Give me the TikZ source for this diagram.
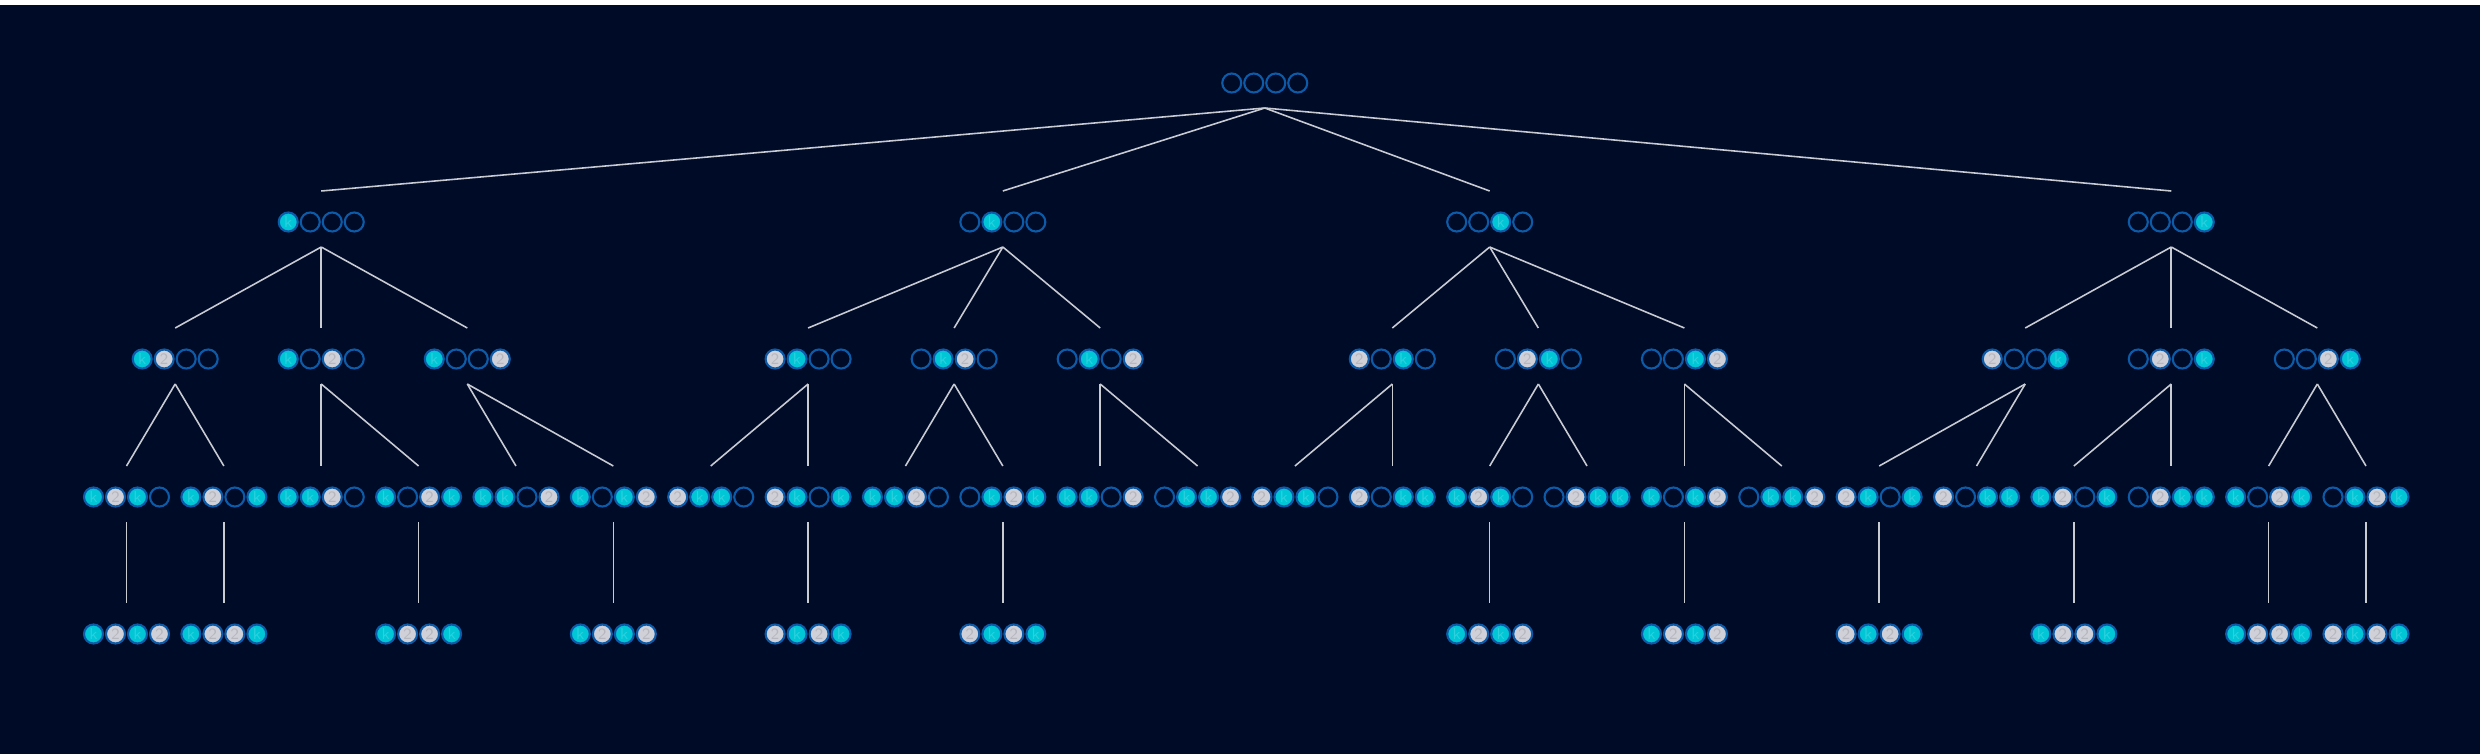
\documentclass[tikz,border=0pt]{standalone}
\usepackage{tikz}
\usepackage{xcolor}
\definecolor{navy}{HTML}{000B28}
\definecolor{slotblue}{HTML}{0D5BA8}
\definecolor{slotcyan}{HTML}{00C6D6}
\definecolor{slotgray}{HTML}{CFD0D8}
\definecolor{branchgray}{HTML}{C9CBD3}
\tikzstyle{slot} = [circle, minimum size=0.19cm, inner sep=0pt, draw=slotblue, line width=0.6pt, font=\sffamily\fontsize{4.5}{4.5}\selectfont]
\tikzstyle{cslot} = [slot, fill=slotcyan, text=slotcyan!82!white, node contents={k}]
\tikzstyle{gslot} = [slot, fill=slotgray, text=slotgray!88!black, node contents={2}]
\tikzstyle{eslot} = [slot, node contents={}]
\tikzstyle{branch} = [draw=branchgray, line width=0.45pt]
% one state: name, column, row y, then the four slots (c, g or e)
\newcommand{\slotrow}[7]{%
  \node (#1-1) at ({126.5+97.37*#2-33}, #3) [#4slot];
  \node (#1-2) at ({126.5+97.37*#2-11}, #3) [#5slot];
  \node (#1-3) at ({126.5+97.37*#2+11}, #3) [#6slot];
  \node (#1-4) at ({126.5+97.37*#2+33}, #3) [#7slot];
  \coordinate (#1-top) at ({126.5+97.37*#2}, #3-31);
  \coordinate (#1-bot) at ({126.5+97.37*#2}, #3+25);
}

\begin{document}
\begin{tikzpicture}[x=0.01cm, y=-0.01cm]

% background
\fill[white] (0,0) rectangle (2480,754);
\fill[navy] (0,5) rectangle (2480,754);
\useasboundingbox (0,0) rectangle (2480,754);

% Root
\slotrow{r}{11.69}{83}{e}{e}{e}{e}
% Level 1
\slotrow{n1}{2}{222}{c}{e}{e}{e}
\slotrow{n2}{9}{222}{e}{c}{e}{e}
\slotrow{n3}{14}{222}{e}{e}{c}{e}
\slotrow{n4}{21}{222}{e}{e}{e}{c}
% Level 2
\slotrow{n11}{0.5}{359}{c}{g}{e}{e}
\slotrow{n12}{2}{359}{c}{e}{g}{e}
\slotrow{n13}{3.5}{359}{c}{e}{e}{g}
\slotrow{n21}{7}{359}{g}{c}{e}{e}
\slotrow{n22}{8.5}{359}{e}{c}{g}{e}
\slotrow{n23}{10}{359}{e}{c}{e}{g}
\slotrow{n31}{13}{359}{g}{e}{c}{e}
\slotrow{n32}{14.5}{359}{e}{g}{c}{e}
\slotrow{n33}{16}{359}{e}{e}{c}{g}
\slotrow{n41}{19.5}{359}{g}{e}{e}{c}
\slotrow{n42}{21}{359}{e}{g}{e}{c}
\slotrow{n43}{22.5}{359}{e}{e}{g}{c}
% Level 3
\slotrow{n111}{0}{497}{c}{g}{c}{e}
\slotrow{n112}{1}{497}{c}{g}{e}{c}
\slotrow{n121}{2}{497}{c}{c}{g}{e}
\slotrow{n122}{3}{497}{c}{e}{g}{c}
\slotrow{n131}{4}{497}{c}{c}{e}{g}
\slotrow{n132}{5}{497}{c}{e}{c}{g}
\slotrow{n211}{6}{497}{g}{c}{c}{e}
\slotrow{n212}{7}{497}{g}{c}{e}{c}
\slotrow{n221}{8}{497}{c}{c}{g}{e}
\slotrow{n222}{9}{497}{e}{c}{g}{c}
\slotrow{n231}{10}{497}{c}{c}{e}{g}
\slotrow{n232}{11}{497}{e}{c}{c}{g}
\slotrow{n311}{12}{497}{g}{c}{c}{e}
\slotrow{n312}{13}{497}{g}{e}{c}{c}
\slotrow{n321}{14}{497}{c}{g}{c}{e}
\slotrow{n322}{15}{497}{e}{g}{c}{c}
\slotrow{n331}{16}{497}{c}{e}{c}{g}
\slotrow{n332}{17}{497}{e}{c}{c}{g}
\slotrow{n411}{18}{497}{g}{c}{e}{c}
\slotrow{n412}{19}{497}{g}{e}{c}{c}
\slotrow{n421}{20}{497}{c}{g}{e}{c}
\slotrow{n422}{21}{497}{e}{g}{c}{c}
\slotrow{n431}{22}{497}{c}{e}{g}{c}
\slotrow{n432}{23}{497}{e}{c}{g}{c}
% Level 4 (full states)
\slotrow{n1111}{0}{634}{c}{g}{c}{g}
\slotrow{n1121}{1}{634}{c}{g}{g}{c}
\slotrow{n1221}{3}{634}{c}{g}{g}{c}
\slotrow{n1321}{5}{634}{c}{g}{c}{g}
\slotrow{n2121}{7}{634}{g}{c}{g}{c}
\slotrow{n2221}{9}{634}{g}{c}{g}{c}
\slotrow{n3211}{14}{634}{c}{g}{c}{g}
\slotrow{n3311}{16}{634}{c}{g}{c}{g}
\slotrow{n4111}{18}{634}{g}{c}{g}{c}
\slotrow{n4211}{20}{634}{c}{g}{g}{c}
\slotrow{n4311}{22}{634}{c}{g}{g}{c}
\slotrow{n4321}{23}{634}{g}{c}{g}{c}

% BRANCHES
% root to level 1
\draw[branch] (r-bot) -- (n1-top);
\draw[branch] (r-bot) -- (n2-top);
\draw[branch] (r-bot) -- (n3-top);
\draw[branch] (r-bot) -- (n4-top);
% level 1 to level 2
\draw[branch] (n1-bot) -- (n11-top);
\draw[branch] (n1-bot) -- (n12-top);
\draw[branch] (n1-bot) -- (n13-top);
\draw[branch] (n2-bot) -- (n21-top);
\draw[branch] (n2-bot) -- (n22-top);
\draw[branch] (n2-bot) -- (n23-top);
\draw[branch] (n3-bot) -- (n31-top);
\draw[branch] (n3-bot) -- (n32-top);
\draw[branch] (n3-bot) -- (n33-top);
\draw[branch] (n4-bot) -- (n41-top);
\draw[branch] (n4-bot) -- (n42-top);
\draw[branch] (n4-bot) -- (n43-top);
% level 2 to level 3
\draw[branch] (n11-bot) -- (n111-top);
\draw[branch] (n11-bot) -- (n112-top);
\draw[branch] (n12-bot) -- (n121-top);
\draw[branch] (n12-bot) -- (n122-top);
\draw[branch] (n13-bot) -- (n131-top);
\draw[branch] (n13-bot) -- (n132-top);
\draw[branch] (n21-bot) -- (n211-top);
\draw[branch] (n21-bot) -- (n212-top);
\draw[branch] (n22-bot) -- (n221-top);
\draw[branch] (n22-bot) -- (n222-top);
\draw[branch] (n23-bot) -- (n231-top);
\draw[branch] (n23-bot) -- (n232-top);
\draw[branch] (n31-bot) -- (n311-top);
\draw[branch] (n31-bot) -- (n312-top);
\draw[branch] (n32-bot) -- (n321-top);
\draw[branch] (n32-bot) -- (n322-top);
\draw[branch] (n33-bot) -- (n331-top);
\draw[branch] (n33-bot) -- (n332-top);
\draw[branch] (n41-bot) -- (n411-top);
\draw[branch] (n41-bot) -- (n412-top);
\draw[branch] (n42-bot) -- (n421-top);
\draw[branch] (n42-bot) -- (n422-top);
\draw[branch] (n43-bot) -- (n431-top);
\draw[branch] (n43-bot) -- (n432-top);
% level 3 to level 4
\draw[branch] (n111-bot) -- (n1111-top);
\draw[branch] (n112-bot) -- (n1121-top);
\draw[branch] (n122-bot) -- (n1221-top);
\draw[branch] (n132-bot) -- (n1321-top);
\draw[branch] (n212-bot) -- (n2121-top);
\draw[branch] (n222-bot) -- (n2221-top);
\draw[branch] (n321-bot) -- (n3211-top);
\draw[branch] (n331-bot) -- (n3311-top);
\draw[branch] (n411-bot) -- (n4111-top);
\draw[branch] (n421-bot) -- (n4211-top);
\draw[branch] (n431-bot) -- (n4311-top);
\draw[branch] (n432-bot) -- (n4321-top);
\end{tikzpicture}
\end{document}
